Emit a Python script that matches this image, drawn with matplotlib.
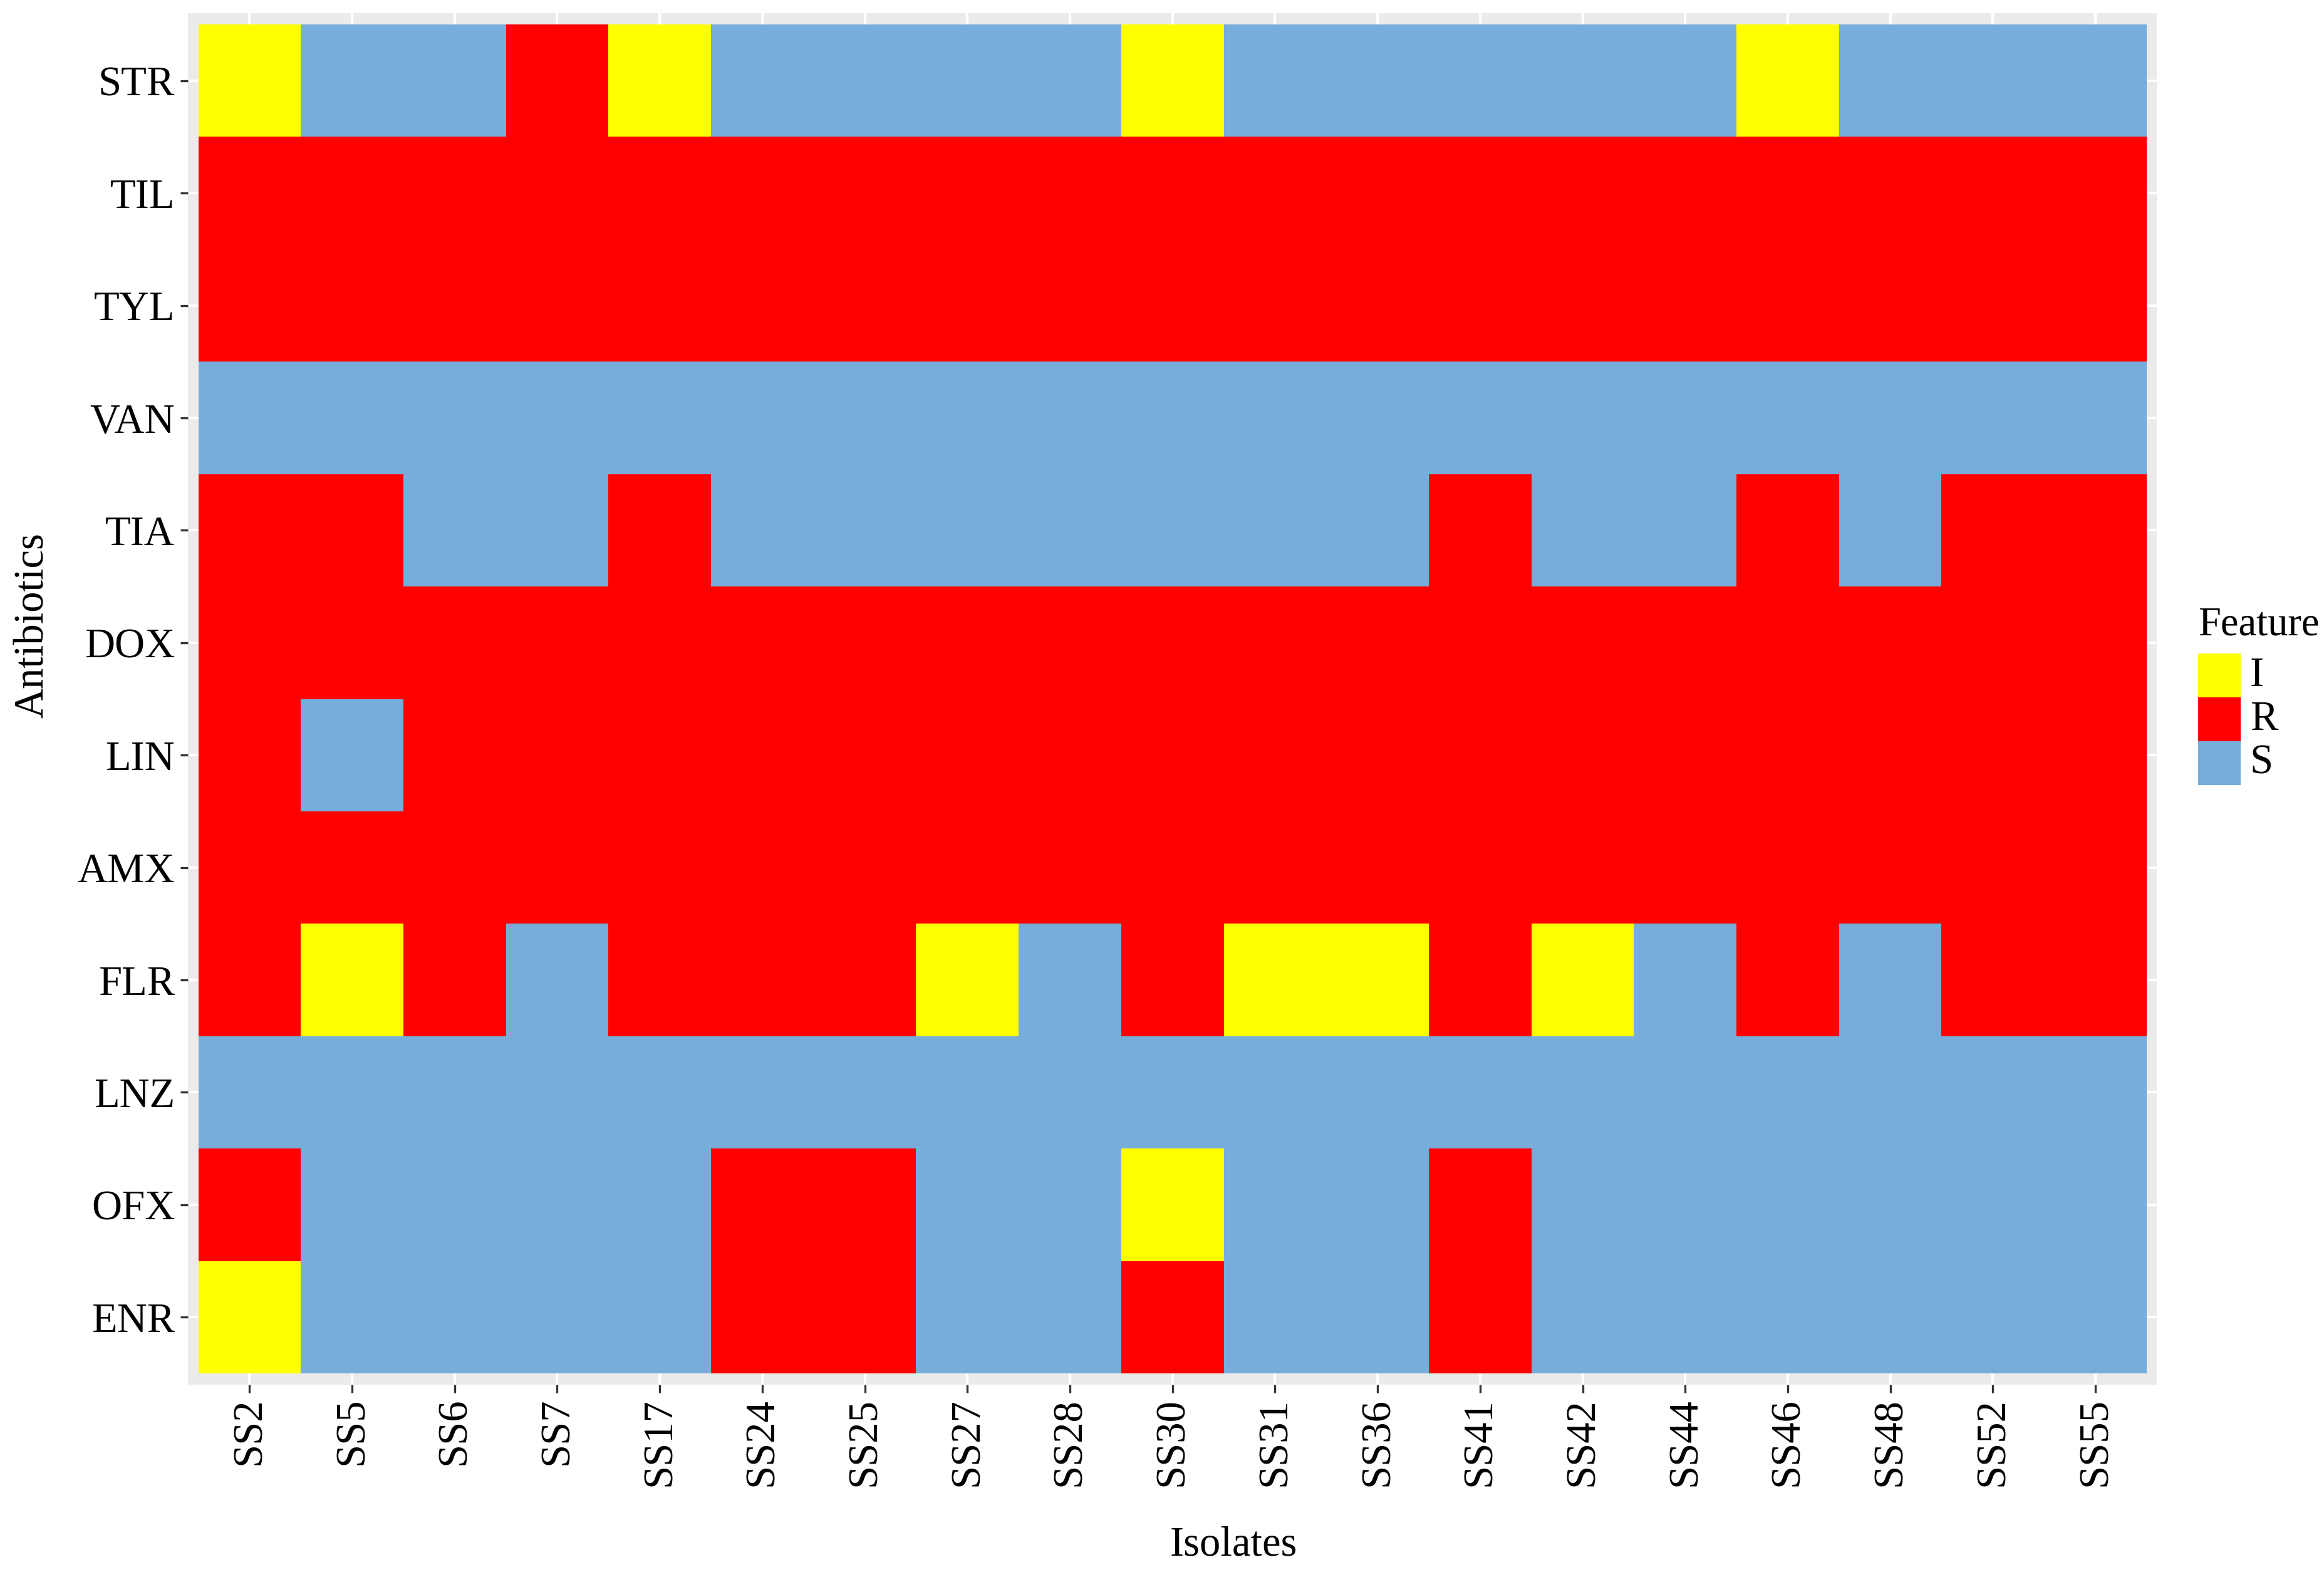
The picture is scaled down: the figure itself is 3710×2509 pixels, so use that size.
import numpy as np
import matplotlib
matplotlib.use("Agg")
import matplotlib.pyplot as plt
from matplotlib.colors import ListedColormap
from matplotlib.patches import Rectangle

isolates = ["SS2", "SS5", "SS6", "SS7", "SS17", "SS24", "SS25", "SS27", "SS28", "SS30",
            "SS31", "SS36", "SS41", "SS42", "SS44", "SS46", "SS48", "SS52", "SS55"]
antibiotics = ["STR", "TIL", "TYL", "VAN", "TIA", "DOX", "LIN", "AMX", "FLR", "LNZ", "OFX", "ENR"]
features = ["I", "R", "S"]
feature_colors = ["#FFFF00", "#FF0000", "#76ADDA"]

# one string per antibiotic, one letter per isolate
STR = "ISSRISSSSISSSSSISSS"
TIL = "RRRRRRRRRRRRRRRRRRR"
TYL = "RRRRRRRRRRRRRRRRRRR"
VAN = "SSSSSSSSSSSSSSSSSSS"
TIA = "RRSSRSSSSSSSRSSRSRR"
DOX = "RRRRRRRRRRRRRRRRRRR"
LIN = "RSRRRRRRRRRRRRRRRRR"
AMX = "RRRRRRRRRRRRRRRRRRR"
FLR = "RIRSRRRISRIIRISRSRR"
LNZ = "SSSSSSSSSSSSSSSSSSS"
OFX = "RSSSSRRSSISSRSSSSSS"
ENR = "ISSSSRRSSRSSRSSSSSS"
rows = [STR, TIL, TYL, VAN, TIA, DOX, LIN, AMX, FLR, LNZ, OFX, ENR]

grid = np.array([[features.index(c) for c in r] for r in rows])

plt.rcParams['font.family'] = ['Liberation Serif', 'DejaVu Serif']

fig = plt.figure(figsize=(3710 / 300, 2509 / 300), dpi=300)
ax = fig.add_axes([0.0809, 0.1192, 0.8472, 0.8724])
ax.set_facecolor("#EBEBEB")

nx, ny = len(isolates), len(antibiotics)
ax.pcolormesh(np.arange(nx + 1) - 0.5, np.arange(ny + 1) - 0.5, grid,
              cmap=ListedColormap(feature_colors), vmin=-0.5, vmax=2.5, zorder=2)

ax.set_xlim(-0.6, nx - 0.4)
ax.set_ylim(ny - 0.4, -0.6)
ax.set_xticks(np.arange(nx))
ax.set_xticklabels(isolates, rotation=90, fontsize=16)
ax.set_yticks(np.arange(ny))
ax.set_yticklabels(antibiotics, fontsize=16)
ax.tick_params(length=3, width=0.8, color="#333333", pad=2)
ax.grid(True, color="white", linewidth=1.0, zorder=1)
ax.set_axisbelow(True)
for s in ax.spines.values():
    s.set_visible(False)

ax.set_xlabel("Isolates", fontsize=16)
ax.set_ylabel("Antibiotics", fontsize=16)
ax.xaxis.set_label_coords(0.531, -0.103)
ax.yaxis.set_label_coords(-0.069, 0.5535)

# legend
key_w = 68 / 3710
key_h = 70 / 2509
x0 = 3509 / 3710
y_top = 1 - 1043 / 2509
fig.text(x0, y_top + 0.006, "Feature", fontsize=15.5, va="bottom", ha="left")
for i, (lab, col) in enumerate(zip(features, feature_colors)):
    yb = y_top - (i + 1) * key_h
    fig.patches.append(Rectangle((x0, yb), key_w, key_h, transform=fig.transFigure,
                                 facecolor=col, edgecolor="none"))
    fig.text(x0 + key_w + 0.004, yb + key_h / 2, lab, fontsize=16, va="center", ha="left")

fig.savefig("out.png", dpi=300)
